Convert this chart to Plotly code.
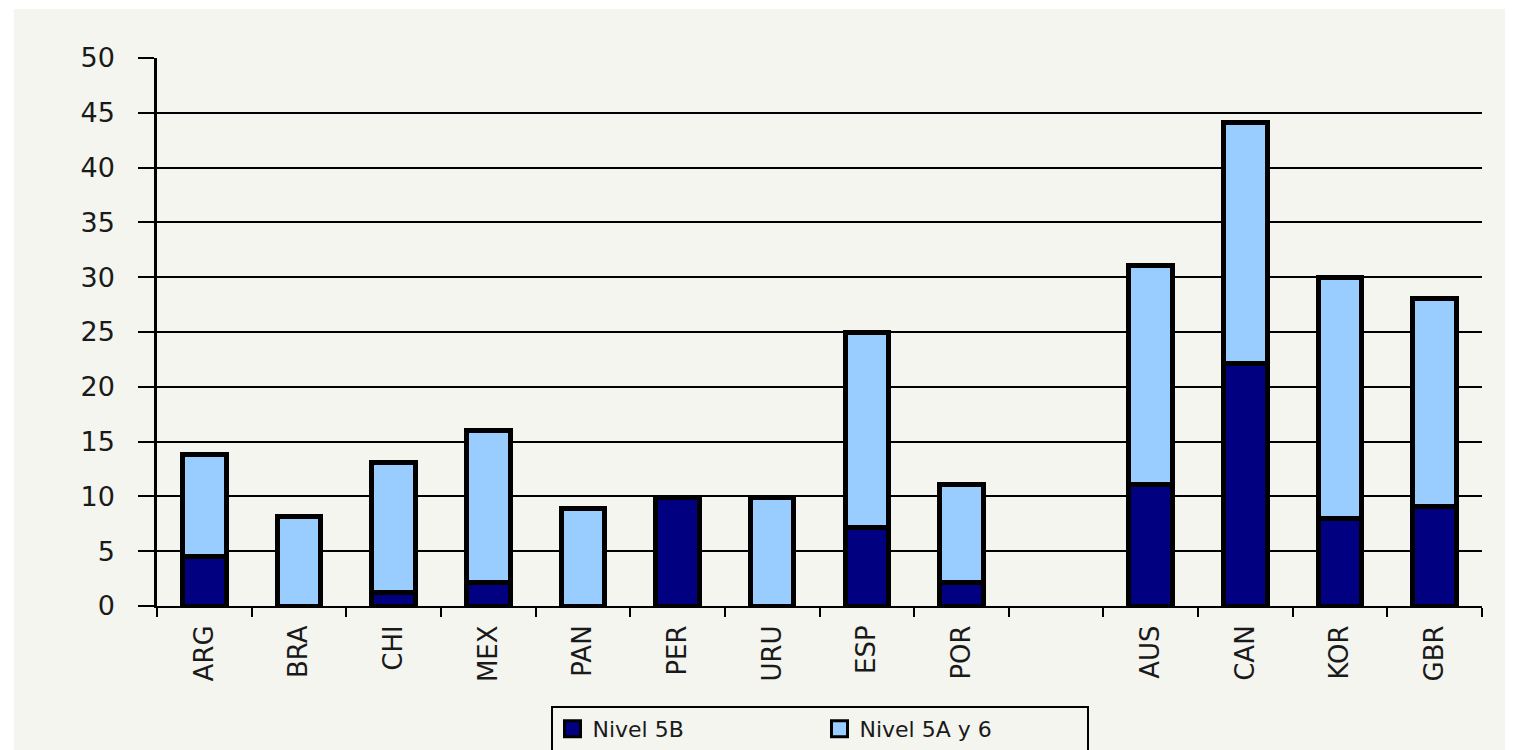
import plotly.graph_objects as go

categories = ["ARG", "BRA", "CHI", "MEX", "PAN", "PER", "URU", "ESP", "POR", " ",
              "AUS", "CAN", "KOR", "GBR"]
nivel_5b = [4.5, 0, 1.2, 2.1, 0, 9.9, 0, 7.2, 2.1, None, 11.1, 22.1, 8.0, 9.1]
nivel_5a6 = [9.3, 8.2, 11.9, 13.9, 8.9, 0, 9.9, 17.8, 9.0, None, 20.0, 22.0, 22.0, 19.0]
series_names = ["Nivel 5B", "Nivel 5A y 6"]
series_colors = ["#000080", "#99ccff"]

BG = "#f5f5f0"
FONT = "DejaVu Sans"
OFF = 8  # page body margin

fig = go.Figure()
for vals, name, col in zip([nivel_5b, nivel_5a6], series_names, series_colors):
    fig.add_trace(go.Bar(x=categories, y=vals, name=name, showlegend=False,
                         marker=dict(color=col, line=dict(color="black", width=5)),
                         width=0.46))
# legend-only entries with boxed symbols
for name, col in zip(series_names, series_colors):
    fig.add_trace(go.Scatter(x=[None], y=[None], mode="markers", name=name,
                             marker=dict(symbol="square", size=20, color=col,
                                         line=dict(color="black", width=3))))

W, H = 1513 - OFF, 750 - OFF
L, R, T, B = 157 - OFF, 31, 58 - OFF, 144
pw, ph = W - L - R, H - T - B

fig.update_layout(
    width=W, height=H,
    barmode="stack",
    margin=dict(l=L, r=R, t=T, b=B, autoexpand=False),
    paper_bgcolor=BG, plot_bgcolor=BG,
    font=dict(family=FONT, size=25, color="#1a1a1a"),
    showlegend=True,
    legend=dict(orientation="h", x=0.5, xanchor="center",
                y=(606 - 706) / ph, yanchor="top", traceorder="normal",
                bordercolor="black", borderwidth=2, bgcolor=BG,
                font=dict(family=FONT, size=22, color="#1a1a1a"),
                entrywidth=222, itemwidth=30, tracegroupgap=0),
    xaxis=dict(type="category", categoryorder="array", categoryarray=categories,
               tickson="boundaries", ticks="outside", ticklen=9, tickwidth=2,
               tickcolor="black", showline=True, linecolor="black", linewidth=2,
               showgrid=False, tickangle=-90, ticklabelstandoff=7,
               tickfont=dict(family=FONT, size=26, color="#1a1a1a"),
               range=[-0.5, len(categories) - 0.5]),
    yaxis=dict(range=[0, 50], dtick=5, tick0=0, ticks="outside", ticklen=16,
               tickwidth=2, tickcolor="black", showline=True, linecolor="black",
               linewidth=2.5, showgrid=True, gridcolor="black", gridwidth=1.6,
               zeroline=False, ticklabelstandoff=18,
               tickfont=dict(family=FONT, size=27, color="#1a1a1a")),
    shapes=[
        dict(type="rect", xref="paper", yref="paper", layer="below",
             x0=-L / pw - 0.01, x1=(14 - 157) / pw, y0=-B / ph - 0.01, y1=(H - T) / ph + 0.2,
             fillcolor="white", line=dict(width=0)),
        dict(type="rect", xref="paper", yref="paper", layer="below",
             x0=-L / pw - 0.01, x1=1 + R / pw + 0.01, y0=(606 - 9) / ph, y1=(H - T) / ph + 0.2,
             fillcolor="white", line=dict(width=0)),
    ],
)

fig.write_html("out.html")
